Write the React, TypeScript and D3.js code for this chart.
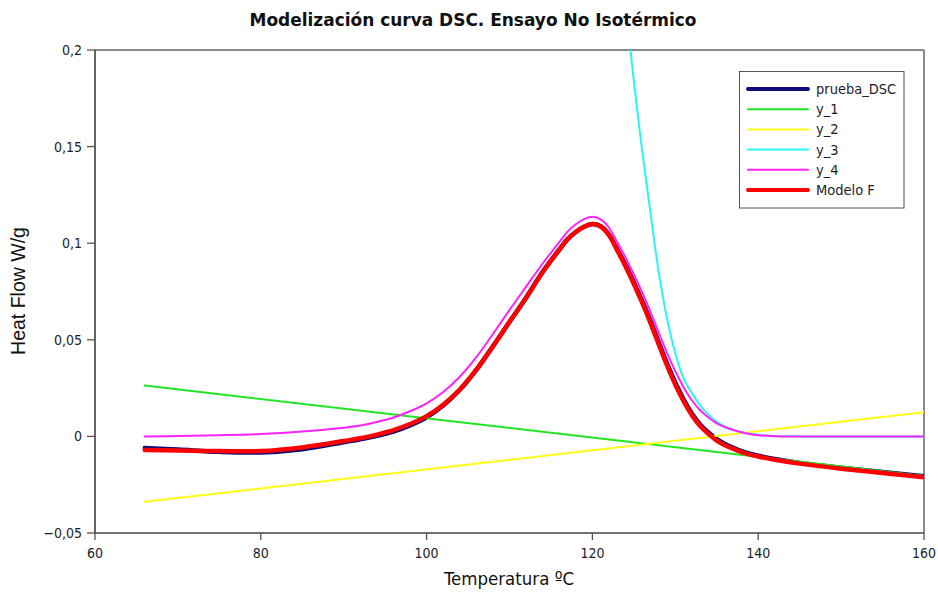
import React from "react";
import * as d3 from "d3";

// ---------- data ----------
const temps = [66,70,75,80,85,90,92,94,96,98,100,102,104,106,108,110,112,114,116,117,118,119,120,121,122,123,124,125,126,127,128,129,130,131,132,133,134,135,136,137,138,139,140,142,145,150,155,160];

const pruebaDSC = [-0.0060,-0.0068,-0.0080,-0.0083,-0.0066,-0.0030,-0.0015,0.0003,0.0025,0.0057,0.0099,0.0160,0.0240,0.0344,0.0467,0.0593,0.0718,0.0852,0.0967,
  0.1021,0.1058,0.1085,0.1099,0.1088,0.1045,0.0968,0.0887,0.0797,0.0701,0.0598,0.0487,0.0378,0.0279,0.0192,0.0119,0.0062,0.0021,-0.0014,-0.0039,-0.0059,-0.0076,-0.0090,-0.0100,
  -0.0117,-0.0137,-0.0162,-0.0184,-0.0206];

const modeloF = [-0.0070,-0.0073,-0.0076,-0.0076,-0.0057,-0.0024,-0.0010,0.0009,0.0032,0.0064,0.0105,0.0164,0.0243,0.0345,0.0466,0.0592,0.0717,0.0850,0.0965,
  0.1020,0.1058,0.1085,0.1099,0.1086,0.1041,0.0963,0.0880,0.0789,0.0692,0.0588,0.0476,0.0367,0.0268,0.0182,0.0110,0.0054,0.0013,-0.0022,-0.0046,-0.0065,-0.0081,-0.0094,-0.0104,
  -0.0121,-0.0141,-0.0167,-0.0189,-0.0212];

const y4 = [0,0.0002,0.0006,0.0012,0.0025,0.0045,0.0056,0.0075,0.0098,0.0130,0.0171,0.0230,0.0309,0.0410,0.0530,0.0654,0.0775,0.0895,0.1005,
  0.1060,0.1098,0.1125,0.1137,0.1123,0.1080,0.1005,0.0925,0.0838,0.0745,0.0645,0.0537,0.0432,0.0337,0.0255,0.0187,0.0135,0.0098,0.0068,0.0048,0.0033,0.0021,0.0012,0.0006,
  0.0001,0,0,0,0];

const y1Temps = [66, 160];
const y1 = [0.0263, -0.0205];

const y2Temps = [66, 160];
const y2 = [-0.0338, 0.0125];

const y3Temps = [124.4,125,126,127,128,129,130,131,132,133,134,135,136,137,138,140,142,145,150,160];
const y3 = [0.208,0.184,0.148,0.116,0.085,0.061,0.043,0.030,0.0225,0.0160,0.0112,0.0075,0.0050,0.0034,0.0022,0.0008,0.0002,0,0,0];

const xTicks = [60, 80, 100, 120, 140, 160];
const yTicks = [-0.05, 0, 0.05, 0.1, 0.15, 0.2];
const yTickLabels = ["\u22120,05", "0", "0,05", "0,1", "0,15", "0,2"];

const seriesNames = ["prueba_DSC", "y_1", "y_2", "y_3", "y_4", "Modelo F"];
const seriesColors = ["#0b0b7a", "#22e622", "#ffff14", "#2af5f5", "#ff22ff", "#ff0000"];
const seriesWidths = [4.5, 2, 2, 2, 2, 4.5];

// ---------- layout ----------
const W = 938, H = 592;
const L = 95, R = 924, T = 50, B = 533;

export default function App() {
  const x = d3.scaleLinear().domain([60, 160]).range([L, R]);
  const y = d3.scaleLinear().domain([-0.05, 0.2]).range([B, T]);

  const mk = (xs: number[], ys: number[]) =>
    d3.line<number>().x((_, i) => x(xs[i])).y((v) => y(v)).curve(d3.curveCatmullRom.alpha(0.5))(ys) || "";

  const paths = [
    mk(temps, pruebaDSC),
    mk(y1Temps, y1),
    mk(y2Temps, y2),
    mk(y3Temps, y3),
    mk(temps, y4),
    mk(temps, modeloF),
  ];

  const font = "'DejaVu Sans Condensed', 'DejaVu Sans', sans-serif";

  return (
    <svg width={W} height={H} style={{ display: "block", position: "absolute", left: 0, top: 0, background: "#fff" }}>
      <rect x={0} y={0} width={W} height={H} fill="#fff" />
      <text x={473} y={26} textAnchor="middle" fontFamily={font} fontWeight="bold" fontSize={17.5} fill="#111"
        textLength={447} lengthAdjust="spacingAndGlyphs">
        Modelización curva DSC. Ensayo No Isotérmico
      </text>

      <defs>
        <clipPath id="plotclip">
          <rect x={L} y={T} width={R - L} height={B - T} />
        </clipPath>
      </defs>

      {/* frame top & right */}
      <line x1={L} x2={R} y1={T} y2={T} stroke="#8a8a8a" strokeWidth={2} />
      <line x1={R} x2={R} y1={T} y2={B} stroke="#8a8a8a" strokeWidth={2} />

      <g clipPath="url(#plotclip)">
        {paths.map((d, i) => (
          <path key={i} d={d} fill="none" stroke={seriesColors[i]} strokeWidth={seriesWidths[i]}
            strokeLinejoin="round" strokeLinecap="round" />
        ))}
      </g>

      {/* axes */}
      <line x1={L} x2={L} y1={T} y2={B} stroke="#333" strokeWidth={1.5} />
      <line x1={L} x2={R} y1={B} y2={B} stroke="#444" strokeWidth={1.5} />
      {yTicks.map((t, i) => (
        <g key={"y" + i}>
          <line x1={L - 8} x2={L} y1={y(t)} y2={y(t)} stroke="#555" strokeWidth={1.3} />
          <text x={L - 13} y={y(t) + 5} textAnchor="end" fontFamily={font} fontSize={14} fill="#1c1c2c">
            {yTickLabels[i]}
          </text>
        </g>
      ))}
      {xTicks.map((t, i) => (
        <g key={"x" + i}>
          <line x1={x(t)} x2={x(t)} y1={B} y2={B + 7} stroke="#555" strokeWidth={1.3} />
          <text x={x(t)} y={B + 25} textAnchor="middle" fontFamily={font} fontSize={14} fill="#1c1c2c">
            {t}
          </text>
        </g>
      ))}

      <text x={509} y={585} textAnchor="middle" fontFamily={font} fontSize={18.5} fill="#111">
        Temperatura ºC
      </text>
      <text transform={`translate(25, 291) rotate(-90)`} textAnchor="middle"
        fontFamily="'Liberation Sans', Arial, sans-serif" fontSize={19.5} fill="#111">
        Heat Flow W/g
      </text>

      {/* legend */}
      <rect x={739.5} y={71.5} width={164.5} height={136.5} fill="#fff" stroke="#555" strokeWidth={1} />
      {seriesNames.map((n, i) => {
        const ly = 89 + i * 20.2;
        return (
          <g key={"l" + i}>
            <line x1={748} x2={808} y1={ly} y2={ly} stroke={seriesColors[i]}
              strokeWidth={i === 0 || i === 5 ? 4 : 2} strokeLinecap="round" />
            <text x={816} y={ly + 5} fontFamily={font} fontSize={14.5} fill="#1c1c2c">{n}</text>
          </g>
        );
      })}
    </svg>
  );
}
